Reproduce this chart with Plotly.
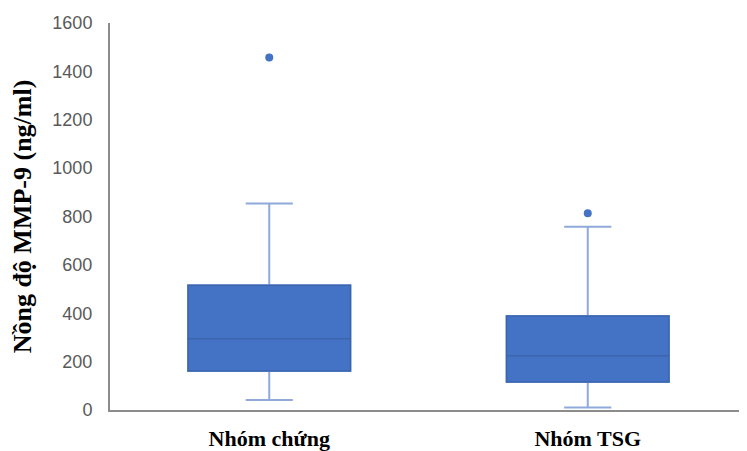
import plotly.graph_objects as go

categories = ["Nhóm chứng", "Nhóm TSG"]
q1_vals = [161, 116]
median_vals = [295, 224]
q3_vals = [516, 389]
lower_fence = [41, 10]
upper_fence = [854, 758]
outlier_x = ["Nhóm chứng", "Nhóm TSG"]
outlier_y = [1457, 813]
y_ticks = [0, 200, 400, 600, 800, 1000, 1200, 1400, 1600]

fill = "#4472C4"

fig = go.Figure()
# whiskers (lighter lines)
fig.add_trace(go.Box(
    x=categories, q1=q1_vals, median=median_vals, q3=q3_vals,
    lowerfence=lower_fence, upperfence=upper_fence,
    fillcolor=fill, line=dict(color="#8FA9DB", width=2),
    whiskerwidth=0.29, width=0.51, boxpoints=False, showlegend=False,
    hoverinfo="skip",
))
# box body with darker border/median
fig.add_trace(go.Box(
    x=categories, q1=q1_vals, median=median_vals, q3=q3_vals,
    lowerfence=q1_vals, upperfence=q3_vals,
    fillcolor=fill, line=dict(color="#3A64AE", width=1.5),
    whiskerwidth=0, width=0.51, boxpoints=False, showlegend=False,
))
fig.add_trace(go.Scatter(
    x=outlier_x, y=outlier_y, mode="markers",
    marker=dict(color="#4472C4", size=8), showlegend=False,
))

# page body has an 8px margin, so the figure is sized to fill the rest
fig.update_layout(
    width=739, height=443,
    margin=dict(l=102, r=0, t=15, b=41),
    paper_bgcolor="white", plot_bgcolor="white",
    boxmode="overlay",
    font=dict(family="Liberation Sans, Arial", color="#595959"),
)
fig.update_xaxes(
    type="category", range=[-0.5, 1.5], automargin=False,
    showline=True, linecolor="#8C8C8C", linewidth=2,
    showgrid=False, zeroline=False, ticks="",
    tickfont=dict(family="Liberation Serif, Times New Roman", size=22, color="black",
                  weight="bold"),
    ticklabelstandoff=8,
)
fig.update_yaxes(
    range=[0, 1600], tickvals=y_ticks, automargin=False,
    showline=True, linecolor="#8C8C8C", linewidth=2,
    showgrid=False, zeroline=False, ticks="",
    tickfont=dict(family="Liberation Sans, Arial", size=18, color="#595959"),
    ticklabelstandoff=12,
    title=dict(text="Nồng độ MMP-9 (ng/ml)", standoff=14,
               font=dict(family="Liberation Serif, Times New Roman", size=26,
                         color="black", weight="bold")),
)

fig.write_html("out.html")
